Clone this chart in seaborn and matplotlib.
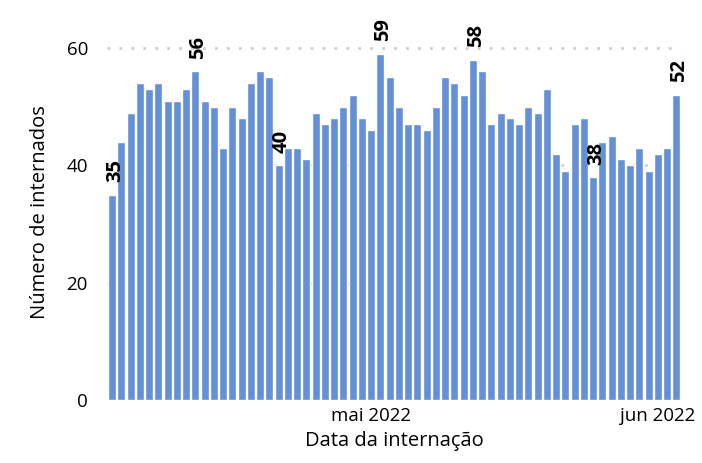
import matplotlib
matplotlib.use("Agg")
import matplotlib.pyplot as plt
import seaborn as sns
import pandas as pd
import numpy as np

# Data: daily hospitalisations, 3 Apr 2022 - 3 Jun 2022
dates = pd.date_range("2022-04-03", "2022-06-03", freq="D")
values = [35, 44, 49, 54, 53, 54, 51, 51, 53, 56,
          51, 50, 43, 50, 48, 54, 56, 55, 40, 43,
          43, 41, 49, 47, 48, 50, 52, 48, 46, 59,
          55, 50, 47, 47, 46, 50, 55, 54, 52, 58,
          56, 47, 49, 48, 47, 50, 49, 53, 42, 39,
          47, 48, 38, 44, 45, 41, 40, 43, 39, 42,
          43, 52]
labelled_dates = ["2022-04-03", "2022-04-12", "2022-04-21", "2022-05-02",
                  "2022-05-12", "2022-05-25", "2022-06-03"]
tick_dates = ["2022-05-01", "2022-06-01"]
tick_labels = ["mai 2022", "jun 2022"]
y_ticks = [0, 20, 40, 60]

df = pd.DataFrame({"data": dates.strftime("%Y-%m-%d"), "n": values})

sns.set_theme(style="white")
plt.rcParams["font.family"] = ["Open Sans", "DejaVu Sans"]

fig = plt.figure(figsize=(7.02, 4.63), dpi=100)
ax = fig.add_axes([0.153, 0.136, 0.817, 0.811])

sns.barplot(data=df, x="data", y="n", color="#6690D6", width=0.87,
            saturation=1, ax=ax, zorder=3)

cats = list(df["data"])
for d in labelled_dates:
    i = cats.index(d)
    v = df["n"].iloc[i]
    ax.annotate(str(v), xy=(i, v), xytext=(2, 9), textcoords="offset points",
                rotation=90, ha="center", va="bottom", fontsize=14.5,
                fontweight="bold", color="black", zorder=5)

ax.set_ylim(0, 64)
ax.set_xlim(-0.5, len(cats) - 0.5)
ax.set_yticks(y_ticks)
ax.set_xticks([cats.index(d) for d in tick_dates])
ax.set_xticklabels(tick_labels)
ax.tick_params(axis="both", length=0, labelsize=13.5, colors="black")
ax.tick_params(axis="y", pad=14)
ax.tick_params(axis="x", pad=5)
for s in ax.spines.values():
    s.set_visible(False)
ax.yaxis.grid(True, color="#CFCFCF", linewidth=2, linestyle=(0, (1, 3.3)), zorder=0)
ax.xaxis.grid(False)
ax.set_axisbelow(True)

ax.set_xlabel("Data da internação", fontsize=14.5, labelpad=4, color="black")
ax.set_ylabel("Número de internados", fontsize=14.5, labelpad=12, color="black")

fig.savefig("out.png", dpi=100)
